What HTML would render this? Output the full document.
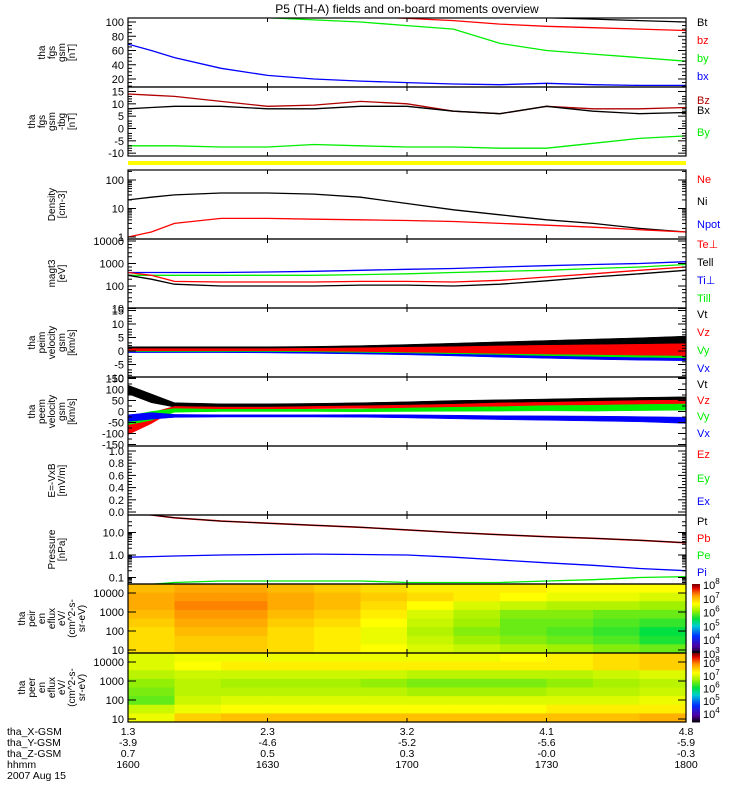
<!DOCTYPE html>
<html><head><meta charset="utf-8"><style>
body{margin:0;background:#fff;}
svg{display:block;font-family:"Liberation Sans",sans-serif;}
</style></head><body>
<svg id="c" width="750" height="800" viewBox="0 0 750 800">
<text x="407" y="13" font-size="12" text-anchor="middle">P5 (TH-A) fields and on-board moments overview</text>
</svg>
<script>
// ---------- data ----------
const tMin=[0,5,10,20,30,40,50,60,70,80,90,100,110,120];
const xTickLabels=["1600","1630","1700","1730","1800"];
const xGsm=["1.3","2.3","3.2","4.1","4.8"];
const yGsm=["-3.9","-4.6","-5.2","-5.6","-5.9"];
const zGsm=["0.7","0.5","0.3","-0.0","-0.3"];
// panel 1 (nT)
const p1Bt=[140,135,130,125,122,118,115,112,110,108,106,104,102,100];
const p1bz=[130,125,120,115,112,110,108,105,102,97,94,92,90,88];
const p1by=[120,117,114,110,106,103,100,95,90,70,60,55,50,45];
const p1bx=[69,60,50,35,25,20,17,15,13,12,14,12,11,11];
// panel 2
const p2Bz=[14,13.5,13,11,9,9.5,11,10,7,6,9,8,8,8.5];
const p2Bx=[8,8.5,9,9,8,8,9,9,7,6,9,7,6,6.5];
const p2By=[-7,-7,-7,-7.5,-7.5,-6.5,-7,-7.5,-7.5,-8,-8,-6,-4,-3];
// panel 3 density
const p3Ni=[20,25,30,35,35,32,25,15,9,6,4,3,2,1.5];
const p3Ne=[1,1.5,3,4.5,4.5,4.2,4,3.8,3.5,3,2.6,2.2,1.8,1.5];
// panel 4 temperature
const p4Tip=[400,400,400,400,420,450,500,550,600,700,800,900,1000,1200];
const p4Tipar=[300,300,300,300,300,300,320,350,400,450,500,600,700,900];
const p4Tep=[400,300,160,150,150,150,160,160,150,180,250,350,500,700];
const p4Tepar=[300,200,120,100,100,100,110,110,100,120,170,250,350,500];
// panel 5 velocity (center, half-amplitude)
const p5VtC=[1,1,1,1,1,1,1.1,1.3,1.5,1.7,1.9,2.1,2.3,2.5];
const p5VtA=[0.6,0.6,0.6,0.6,0.6,0.7,0.9,1.1,1.4,1.7,2,2.3,2.6,3];
const p5VzC=[0.5,0.5,0.5,0.5,0.5,0.5,0.5,0.5,0.5,0.5,0.5,0.5,0.5,0.5];
const p5VzA=[0.4,0.4,0.4,0.4,0.4,0.5,0.7,0.9,1.1,1.4,1.6,1.8,2,2.2];
const p5VyC=[0.2,0.2,0.2,0.2,0.2,0.2,0.1,0.1,0,0,-0.2,-0.3,-0.4,-0.5];
const p5VyA=[0.4,0.4,0.4,0.4,0.4,0.5,0.6,0.8,1,1.3,1.5,1.7,1.9,2];
const p5VxC=[-0.3,-0.3,-0.3,-0.3,-0.3,-0.4,-0.5,-0.6,-0.8,-1,-1.2,-1.4,-1.5,-1.6];
const p5VxA=[0.3,0.3,0.3,0.3,0.4,0.5,0.6,0.8,1,1.3,1.5,1.7,1.9,2];
// panel 6 velocity
const p6VtC=[100,60,30,28,28,30,32,35,40,42,45,48,50,52];
const p6VtA=[20,20,10,7,7,7,8,9,10,11,12,13,14,15];
const p6VzC=[-80,-30,15,15,15,18,20,22,25,30,32,35,38,40];
const p6VzA=[25,25,8,5,5,5,6,7,8,9,10,11,12,12];
const p6VyC=[-40,-20,5,5,5,5,5,8,10,12,15,15,18,20];
const p6VyA=[20,20,8,5,5,5,6,8,9,10,12,13,14,14];
const p6VxC=[-30,-20,-20,-20,-20,-20,-20,-22,-25,-28,-30,-32,-35,-40];
const p6VxA=[15,15,7,5,5,5,6,7,8,9,10,11,12,14];
// panel 8 pressure
const p8Pt=[80,60,45,32,26,21,17,13,10,8,6.5,5.5,4.5,3.5];
const p8Pi=[0.8,0.85,0.9,1.0,1.05,1.1,1.05,1.0,0.8,0.6,0.45,0.35,0.25,0.2];
const p8Pe=[0.05,0.05,0.06,0.07,0.07,0.07,0.07,0.06,0.06,0.06,0.07,0.08,0.1,0.11];
// spectrograms: rows high->low energy, 12 columns (10 min each), log10 flux
const p9Flux=[
[7.0,7.1,7.1,7.0,6.9,6.8,6.7,6.7,6.7,6.6,6.6,6.6],
[7.1,7.2,7.2,7.1,7.0,6.9,6.8,6.7,6.6,6.5,6.5,6.4],
[7.1,7.3,7.3,7.1,7.0,6.8,6.6,6.4,6.3,6.2,6.2,6.1],
[7.0,7.2,7.2,7.0,6.9,6.7,6.4,6.2,6.0,6.0,5.9,5.9],
[6.9,7.1,7.1,6.9,6.8,6.6,6.3,6.1,5.9,5.9,5.8,5.7],
[6.8,7.0,7.0,6.8,6.7,6.5,6.2,6.0,5.9,5.8,5.7,5.5],
[6.8,6.9,6.9,6.8,6.7,6.5,6.3,6.1,6.0,5.9,5.8,5.6],
[6.8,6.9,6.9,6.8,6.7,6.6,6.4,6.3,6.2,6.1,6.0,5.9]];
const p10Flux=[
[7.0,7.1,7.1,7.1,7.1,7.1,7.1,7.1,7.2,7.3,7.4,7.5],
[7.0,7.2,7.3,7.3,7.3,7.3,7.3,7.3,7.3,7.3,7.4,7.5],
[6.8,6.9,6.9,6.9,6.9,6.9,6.8,6.8,6.8,6.8,6.9,7.0],
[6.6,6.8,6.7,6.7,6.7,6.6,6.5,6.5,6.5,6.6,6.7,6.8],
[6.5,6.8,6.8,6.8,6.8,6.8,6.7,6.7,6.7,6.8,6.8,6.9],
[6.4,6.9,7.0,7.0,7.0,7.0,7.0,7.0,7.0,7.0,7.0,7.1],
[6.9,7.1,7.2,7.2,7.2,7.2,7.2,7.2,7.2,7.3,7.3,7.3],
[7.1,7.5,7.6,7.6,7.6,7.6,7.6,7.6,7.6,7.6,7.6,7.7]];

// ---------- helpers ----------
const svg=document.getElementById('c');
const NS='http://www.w3.org/2000/svg';
const X0=128,X1=686;
function xs(t){return X0+(X1-X0)*t/120;}
function mk(tag,attrs,parent){const e=document.createElementNS(NS,tag);for(const k in attrs)e.setAttribute(k,attrs[k]);(parent||svg).appendChild(e);return e;}
const panels=[
 {y0:18,y1:87},{y0:87,y1:156},{y0:170,y1:239},{y0:239,y1:308},{y0:308,y1:377},
 {y0:377,y1:446},{y0:446,y1:515},{y0:515,y1:584},{y0:584,y1:653},{y0:653,y1:722}];
let clipN=0;
function clipFor(i){const p=panels[i];const id='clip'+(clipN++);const cp=mk('clipPath',{id:id});mk('rect',{x:X0,y:p.y0,width:X1-X0,height:p.y1-p.y0},cp);return 'url(#'+id+')';}
function line(i,arr,fy,color,name,w){
  let d='';arr.forEach((v,k)=>{d+=(k?'L':'M')+xs(tMin[k]).toFixed(1)+','+fy(v).toFixed(1);});
  const e=mk('path',{d:d,fill:'none',stroke:color,'stroke-width':w||1.3,'clip-path':clipFor(i)});
  
  
}
function band(i,c,a,fy,color,name){
  let up='',lo='';
  c.forEach((v,k)=>{up+=(k?'L':'M')+xs(tMin[k]).toFixed(1)+','+fy(v+a[k]).toFixed(1);});
  for(let k=c.length-1;k>=0;k--)lo+='L'+xs(tMin[k]).toFixed(1)+','+fy(c[k]-a[k]).toFixed(1);
  const e=mk('path',{d:up+lo+'Z',fill:color,stroke:color,'stroke-width':0.5,'clip-path':clipFor(i)});
  
  
}
function ylab(i,vals,fy,name){
  const g=mk('g',{});
  
  
  vals.forEach(v=>{const y=fy(v);mk('text',{x:124,y:y+4,'font-size':11,'text-anchor':'end'},g).textContent=v.label;});
}
function yticks(i,vals,fy){vals.forEach(v=>{const y=fy(v);mk('line',{x1:X0,x2:X0+8,y1:y,y2:y,stroke:'#000'});mk('line',{x1:X1-8,x2:X1,y1:y,y2:y,stroke:'#000'});});}
function minor(i,vals,fy){vals.forEach(v=>{const y=fy(v);mk('line',{x1:X0,x2:X0+4,y1:y,y2:y,stroke:'#000'});mk('line',{x1:X1-4,x2:X1,y1:y,y2:y,stroke:'#000'});});}
function ytitle(i,lines,name){
  const p=panels[i];const cy=(p.y0+p.y1)/2;const n=lines.length;
  const g=mk('g',{});
  
  
  lines.forEach((s,k)=>{const x=60+(k-(n-1)/2)*10+(n>4?-5:0);
    mk('text',{x:x,y:cy,'font-size':10,'text-anchor':'middle',transform:'rotate(-90 '+x+' '+cy+')'},g).textContent=s;});
}
function legend(i,items){
  items.forEach(it=>{const e=mk('text',{x:697,y:it[2],'font-size':11,fill:it[1]});e.textContent=it[0];
    
    });
}
function lin(y0,v0,y1,v1){return v=>y0+(v-v0)*(y1-y0)/(v1-v0);}
function lg(yDec0,k){return v=>yDec0-k*Math.log10(v);}
function tv(arr){return arr.map(v=>{const o=new Number(v);o.label=String(v);return o;});}
function cmap(f){
  const st=[[0,[0,0,0]],[.1,[80,0,160]],[.25,[0,48,255]],[.4,[0,208,208]],[.5,[0,224,64]],[.62,[160,240,0]],[.72,[255,255,0]],[.85,[255,144,0]],[.95,[224,0,0]],[1,[112,0,0]]];
  f=Math.max(0,Math.min(1,f));
  for(let k=1;k<st.length;k++){if(f<=st[k][0]){const a=st[k-1],b=st[k];const u=(f-a[0])/(b[0]-a[0]);
    return 'rgb('+a[1].map((c,j)=>Math.round(c+(b[1][j]-c)*u)).join(',')+')';}}
  return 'rgb(112,0,0)';
}

// ---------- panel 1 ----------
const f1=lin(79,20,22,100);
line(0,p1Bt,f1,'#000','series-bt');line(0,p1bz,f1,'#f00','series-bz-fgs');line(0,p1by,f1,'#0e0','series-by-fgs');line(0,p1bx,f1,'#00f','series-bx-fgs');
ylab(0,tv([20,40,60,80,100]),f1,'y-axis-labels-fgs');yticks(0,[20,40,60,80,100],f1);minor(0,[10,15,25,30,35,45,50,55,65,70,75,85,90,95],f1);
ytitle(0,['tha','fgs','gsm','[nT]'],'y-axis-title-fgs');
legend(0,[['Bt','#000',26],['bz','#f00',44],['by','#0e0',62],['bx','#00f',80]]);
// ---------- panel 2 ----------
const f2=lin(128.5,0,91.5,15);
line(1,p2Bz,f2,'#b00000','series-bz-dtrend');line(1,p2Bx,f2,'#000','series-bx-dtrend');line(1,p2By,f2,'#0e0','series-by-dtrend');
ylab(1,tv([15,10,5,0,-5,-10]),f2,'y-axis-labels-dtrend');yticks(1,[15,10,5,0,-5,-10],f2);minor(1,[13,12,11,8,7,6,3,2,1,-2,-3,-4,-7,-8,-9],f2);
ytitle(1,['tha','fgs','gsm','-tbg','[nT]'],'y-axis-title-dtrend');
legend(1,[['Bz','#b00000',104],['Bx','#000',114],['By','#0e0',136]]);
mk('rect',{x:X0,y:161,width:X1-X0,height:4,fill:'#ffff00',});
// ---------- panel 3 ----------
const f3=lg(237,28.5);
line(2,p3Ni,f3,'#000','series-ni');line(2,p3Ne,f3,'#f00','series-ne');
ylab(2,tv([100,10,1]),f3,'y-axis-labels-density');
yticks(2,[1,10,100],f3);minor(2,[2,3,4,5,6,7,8,9,20,30,40,50,60,70,80,90,200],f3);
ytitle(2,['Density','[cm-3]'],'y-axis-title-density');
legend(2,[['Ne','#f00',183],['Ni','#000',205],['Npot','#00f',228]]);
// ---------- panel 4 ----------
const f4=lg(331,22.5);
line(3,p4Tip,f4,'#00f','series-ti-perp');line(3,p4Tipar,f4,'#0e0','series-ti-par');line(3,p4Tep,f4,'#f00','series-te-perp');line(3,p4Tepar,f4,'#000','series-te-par');
ylab(3,tv([10000,1000,100,10]),f4,'y-axis-labels-temperature');yticks(3,[10,100,1000,10000],f4);minor(3,[20,30,50,70,200,300,500,700,2000,3000,5000,7000],f4);
ytitle(3,['magt3','[eV]'],'y-axis-title-temperature');
legend(3,[['Te⊥','#f00',248],['Tell','#000',266],['Ti⊥','#00f',284],['Till','#0e0',302]]);
// ---------- panel 5 ----------
const f5=lin(351,0,337.5,5);
band(4,p5VtC,p5VtA,f5,'#000','series-vt-peim');band(4,p5VxC,p5VxA,f5,'#00f','series-vx-peim');band(4,p5VyC,p5VyA,f5,'#0e0','series-vy-peim');band(4,p5VzC,p5VzA,f5,'#f00','series-vz-peim');
ylab(4,tv([15,10,5,0,-5,-10]),f5,'y-axis-labels-peim');yticks(4,[15,10,5,0,-5,-10],f5);minor(4,[13,12,11,8,7,6,3,2,1,-2,-3,-4,-7,-8,-9],f5);
ytitle(4,['tha','peim','velocity','gsm','[km/s]'],'y-axis-title-peim');
legend(4,[['Vt','#000',318],['Vz','#f00',336],['Vy','#0e0',354],['Vx','#00f',372]]);
// ---------- panel 6 ----------
const f6=lin(411.5,0,400.5,50);
band(5,p6VtC,p6VtA,f6,'#000','series-vt-peem');band(5,p6VzC,p6VzA,f6,'#f00','series-vz-peem');band(5,p6VyC,p6VyA,f6,'#0e0','series-vy-peem');band(5,p6VxC,p6VxA,f6,'#00f','series-vx-peem');
ylab(5,tv([150,100,50,0,-50,-100,-150]),f6,'y-axis-labels-peem');yticks(5,[150,100,50,0,-50,-100,-150],f6);minor(5,[125,75,25,-25,-75,-125],f6);
ytitle(5,['tha','peem','velocity','gsm','[km/s]'],'y-axis-title-peem');
legend(5,[['Vt','#000',388],['Vz','#f00',404],['Vy','#0e0',420],['Vx','#00f',437]]);
// ---------- panel 7 ----------
const f7=lin(512,0,451,1);
ylab(6,[0.0,0.2,0.4,0.6,0.8,1.0].map(v=>{const o=new Number(v);o.label=v.toFixed(1);return o;}),f7,'y-axis-labels-efield');
yticks(6,[0,0.2,0.4,0.6,0.8,1],f7);minor(6,[0.05,0.1,0.15,0.25,0.3,0.35,0.45,0.5,0.55,0.65,0.7,0.75,0.85,0.9,0.95],f7);
ytitle(6,['E=-VxB','[mV/m]'],'y-axis-title-efield');
legend(6,[['Ez','#f00',458],['Ey','#0e0',482],['Ex','#00f',505]]);
// ---------- panel 8 ----------
const f8=lg(555,22.5);
line(7,p8Pt,f8,'#f00','series-pb',1.6);line(7,p8Pt,f8,'#000','series-pt',1);line(7,p8Pi,f8,'#00f','series-pi');line(7,p8Pe,f8,'#0e0','series-pe');
ylab(7,[[10,'10.0'],[1,'1.0'],[0.1,'0.1']].map(a=>{const o=new Number(a[0]);o.label=a[1];return o;}),f8,'y-axis-labels-pressure');
yticks(7,[0.1,1,10],f8);minor(7,[0.06,0.07,0.08,0.09,0.2,0.3,0.4,0.5,0.6,0.7,0.8,0.9,2,3,4,5,6,7,8,9,20,30],f8);
ytitle(7,['Pressure','[nPa]'],'y-axis-title-pressure');
legend(7,[['Pt','#000',525],['Pb','#f00',542],['Pe','#0e0',559],['Pi','#00f',576]]);
// ---------- spectrograms ----------
function spec(i,M,lo,hi,name){
  const p=panels[i];const nr=M.length,nc=M[0].length;const w=(X1-X0)/nc,h=(p.y1-p.y0)/nr;
  const g=mk('g',{});
  
  
  M.forEach((row,r)=>row.forEach((v,c)=>{mk('rect',{x:X0+c*w,y:p.y0+r*h,width:w+0.6,height:h+0.6,fill:cmap((v-lo)/(hi-lo))},g);}));
}
function cbar(i,lo,hi,labels,name){
  const p=panels[i];const g=mk('g',{});
  
  
  const n=60,h=(p.y1-p.y0)/n;
  for(let k=0;k<n;k++)mk('rect',{x:692,y:p.y1-(k+1)*h,width:8,height:h+0.5,fill:cmap((k+0.5)/n)},g);
  labels.forEach(L=>{const y=p.y1-(L-lo)/(hi-lo)*(p.y1-p.y0);const t=mk('text',{x:703,y:y+5,'font-size':11},g);t.textContent='10';const s=mk('tspan',{dy:-5,'font-size':8},t);s.textContent=String(L);});
}
spec(8,p9Flux,3,8,'spectrogram-peir');spec(9,p10Flux,3.28,8.72,'spectrogram-peer');
cbar(8,3,8,[3,4,5,6,7,8],'colorbar-peir');cbar(9,3.28,8.72,[4,5,6,7,8],'colorbar-peer');
const fs9=lg(669,19),fs10=lg(738,19);
ylab(8,tv([10000,1000,100,10]),fs9,'y-axis-labels-peir');yticks(8,[10,100,1000,10000],fs9);
ylab(9,tv([10000,1000,100,10]),fs10,'y-axis-labels-peer');yticks(9,[10,100,1000,10000],fs10);
ytitle(8,['tha','peir','en','eflux','eV/','(cm^2-s-','sr-eV)'],'y-axis-title-peir');
ytitle(9,['tha','peer','en','eflux','eV/','(cm^2-s-','sr-eV)'],'y-axis-title-peer');
// ---------- frames & x ticks ----------
panels.forEach((p,i)=>{
  const r=mk('rect',{x:X0,y:p.y0,width:X1-X0,height:p.y1-p.y0,fill:'none',stroke:'#000','stroke-width':1.2});
  
  
  xTickLabels.forEach((_,k)=>{const x=X0+k*(X1-X0)/4;mk('line',{x1:x,x2:x,y1:p.y0,y2:p.y0+4,stroke:'#000'});mk('line',{x1:x,x2:x,y1:p.y1-4,y2:p.y1,stroke:'#000'});});
});
const rows=[['tha_X-GSM',xGsm,735],['tha_Y-GSM',yGsm,746],['tha_Z-GSM',zGsm,757],['hhmm',xTickLabels,768]];
rows.forEach(rw=>{
  const lab=mk('text',{x:7,y:rw[2],'font-size':10.5});lab.textContent=rw[0];
  
  
  rw[1].forEach((s,k)=>{const t=mk('text',{x:X0+k*(X1-X0)/4,y:rw[2],'font-size':10.5,'text-anchor':'middle'});t.textContent=s;});
});
const dt=mk('text',{x:7,y:779,'font-size':10.5});dt.textContent='2007 Aug 15';


</script>
</body></html>
